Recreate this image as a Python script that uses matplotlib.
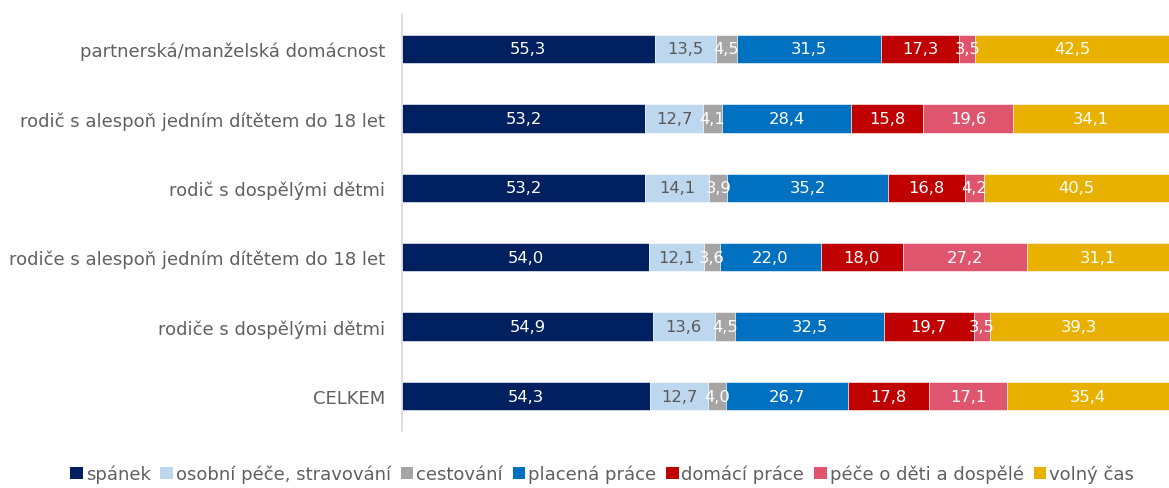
import numpy as np
import matplotlib.pyplot as plt
from matplotlib.patches import Patch

# data
categories = ["partnerská/manželská domácnost",
              "rodič s alespoň jedním dítětem do 18 let",
              "rodič s dospělými dětmi",
              "rodiče s alespoň jedním dítětem do 18 let",
              "rodiče s dospělými dětmi",
              "CELKEM"]
series_names = ["spánek", "osobní péče, stravování", "cestování", "placená práce",
                "domácí práce", "péče o děti a dospělé", "volný čas"]
spanek = [55.3, 53.2, 53.2, 54.0, 54.9, 54.3]
pece_osobni = [13.5, 12.7, 14.1, 12.1, 13.6, 12.7]
cestovani = [4.5, 4.1, 3.9, 3.6, 4.5, 4.0]
placena = [31.5, 28.4, 35.2, 22.0, 32.5, 26.7]
domaci = [17.3, 15.8, 16.8, 18.0, 19.7, 17.8]
pece_deti = [3.5, 19.6, 4.2, 27.2, 3.5, 17.1]
volny = [42.5, 34.1, 40.5, 31.1, 39.3, 35.4]

series = [spanek, pece_osobni, cestovani, placena, domaci, pece_deti, volny]
colors = ["#002060", "#bdd7ee", "#a5a5a5", "#0070c0", "#c00000", "#e0556e", "#e8b100"]
text_colors = ["white", "#595959", "white", "white", "white", "white", "white"]

plt.rcParams['font.family'] = ['DejaVu Sans']

fig = plt.figure(figsize=(11.69, 4.89), dpi=100)
ax = fig.add_axes([0.344, 0.117, 0.656, 0.852])

y = np.arange(len(categories))
left = np.zeros(len(categories))
for vals, col, tcol in zip(series, colors, text_colors):
    vals = np.array(vals)
    ax.barh(y, vals, left=left, height=0.41, color=col, edgecolor="white", linewidth=0.4)
    for yi, (l, v) in enumerate(zip(left, vals)):
        ax.text(l + v / 2, yi, f"{v:.1f}".replace(".", ","), ha="center", va="center",
                color=tcol, fontsize=11.8)
    left += vals

ax.set_xlim(0, 168)
ax.set_ylim(len(categories) - 0.5, -0.5)
ax.set_yticks(y)
ax.set_yticklabels(categories, fontsize=13, color="#606060")
ax.tick_params(axis="y", length=0, pad=12)
ax.set_xticks([])
for s in ["top", "right", "bottom"]:
    ax.spines[s].set_visible(False)
ax.spines["left"].set_color("#d9d9d9")
ax.spines["left"].set_linewidth(1.2)

handles = [Patch(facecolor=c, label=n) for c, n in zip(colors, series_names)]
fig.legend(handles=handles, loc="lower center", bbox_to_anchor=(0.515, -0.024), ncol=7,
           frameon=False, fontsize=13, handlelength=0.7, handleheight=0.7,
           handletextpad=0.15, columnspacing=0.55, labelcolor="#606060")

fig.savefig("out.png", dpi=100)
